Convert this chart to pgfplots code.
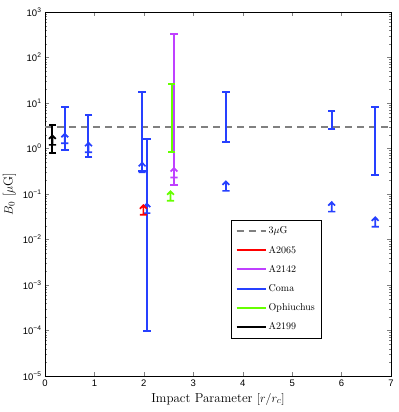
\documentclass[border=0pt]{standalone}
\usepackage{fontspec}
\setsansfont{Liberation Sans}
\usepackage{pgfplots}
\pgfplotsset{compat=1.18}

\definecolor{cblue}{RGB}{38,64,255}
\definecolor{cred}{RGB}{255,0,0}
\definecolor{cpurple}{RGB}{191,64,255}
\definecolor{cgreen}{RGB}{102,255,0}

% lower-limit marker: base bar plus upward arrow
\pgfdeclareplotmark{llim}{%
  \pgfpathmoveto{\pgfqpoint{-3.6pt}{0pt}}\pgfpathlineto{\pgfqpoint{3.6pt}{0pt}}%
  \pgfpathmoveto{\pgfqpoint{0pt}{0pt}}\pgfpathlineto{\pgfqpoint{0pt}{9.5pt}}%
  \pgfpathmoveto{\pgfqpoint{-3.4pt}{6pt}}\pgfpathlineto{\pgfqpoint{0pt}{9.5pt}}%
  \pgfpathlineto{\pgfqpoint{3.4pt}{6pt}}%
  \pgfusepathqstroke}

\begin{document}
\begin{tikzpicture}
\begin{axis}[
    scale only axis,
    width=346pt, height=364pt,
    ymode=log,
    xmin=0, xmax=7, ymin=1e-5, ymax=1e3,
    xtick={0,1,...,7},
    ytick={1e-5,1e-4,1e-3,1e-2,1e-1,1,1e1,1e2,1e3},
    yticklabels={10\textsuperscript{−5},10\textsuperscript{−4},10\textsuperscript{−3},10\textsuperscript{−2},10\textsuperscript{−1},10\textsuperscript{0},10\textsuperscript{1},10\textsuperscript{2},10\textsuperscript{3}},
    /pgf/number format/assume math mode=true,
    tick label style={font=\sffamily\fontsize{9.5}{11}\selectfont},
    major tick length=4pt, minor tick length=2pt,
    xlabel={Impact Parameter $[r/r_c]$},
    ylabel={$B_0$ [$\mu$G]},
    label style={font=\fontsize{13}{15}\selectfont},
    unbounded coords=jump,
    legend style={at={(0.5376,0.4286)}, anchor=north west, draw=black,
      font=\fontsize{10}{12}\selectfont, row sep=6.6pt, cells={anchor=west},
      inner xsep=4.5pt, inner ysep=4.5pt},
    legend image code/.code={\draw[#1, line width=2pt] (0pt,0pt) -- (29pt,0pt);},
]
% 3 muG reference
\addplot[gray, line width=2pt, dash pattern=on 7pt off 5pt] coordinates {(0,3) (7,3)};
\addlegendentry{3$\mu$G}
\addlegendimage{cred}\addlegendentry{A2065}
\addlegendimage{cpurple}\addlegendentry{A2142}
\addlegendimage{cblue}\addlegendentry{Coma}
\addlegendimage{cgreen}\addlegendentry{Ophiuchus}
\addlegendimage{black}\addlegendentry{A2199}

% ranges
\addplot[cblue, line width=2pt, mark=-, mark size=3.8pt, forget plot] coordinates {
 (0.40,0.93) (0.40,8.1) (nan,nan)
 (0.88,0.64) (0.88,5.5) (nan,nan)
 (1.965,0.32) (1.965,17.5) (nan,nan)
 (2.06,1e-4) (2.06,1.6) (nan,nan)
 (3.66,1.4) (3.66,17.5) (nan,nan)
 (5.80,2.7) (5.80,6.7) (nan,nan)
 (6.68,0.26) (6.68,8.3)
};
\addplot[cgreen, line width=2pt, mark=-, mark size=3.8pt, forget plot] coordinates {(2.56,0.83) (2.56,26)};
\addplot[cpurple, line width=2pt, mark=-, mark size=3.8pt, forget plot] coordinates {(2.61,0.16) (2.61,330)};
\addplot[black, line width=2pt, mark=-, mark size=3.8pt, forget plot] coordinates {(0.15,0.8) (0.15,3.3)};

% lower limits
\addplot[cblue, only marks, mark=llim, mark options={line width=1.7pt}, forget plot] coordinates {
 (0.40,1.3) (0.88,0.83) (1.965,0.30) (2.06,0.038) (3.66,0.117) (5.80,0.041) (6.68,0.019)};
\addplot[cred, only marks, mark=llim, mark options={line width=1.7pt}, forget plot] coordinates {(1.99,0.035)};
\addplot[cgreen, only marks, mark=llim, mark options={line width=1.7pt}, forget plot] coordinates {(2.54,0.071)};
\addplot[cpurple, only marks, mark=llim, mark options={line width=1.7pt}, forget plot] coordinates {(2.61,0.23)};
\addplot[black, only marks, mark=llim, mark options={line width=1.7pt}, forget plot] coordinates {(0.15,1.2)};
\end{axis}
\pgfresetboundingbox
\path ([shift={(-45pt,-36pt)}]current axis.south west) rectangle ([shift={(8pt,12pt)}]current axis.north east);
\end{tikzpicture}
\end{document}
